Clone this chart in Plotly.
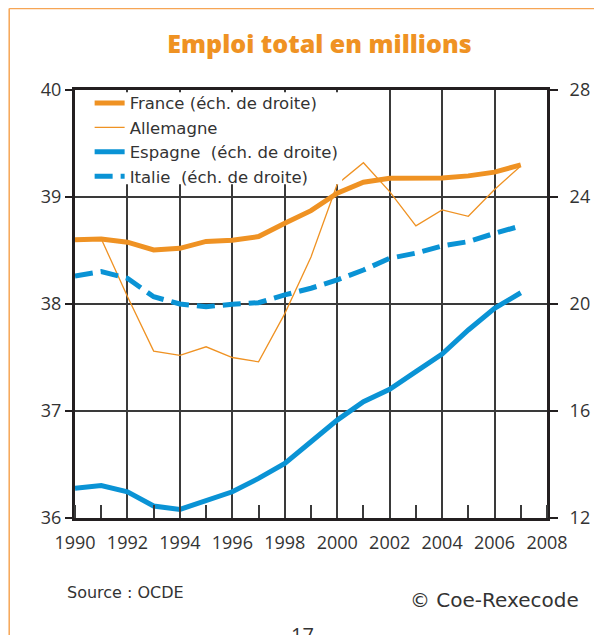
import plotly.graph_objects as go

years = list(range(1990, 2008))
france = [22.40, 22.43, 22.31, 22.02, 22.08, 22.34, 22.38, 22.52, 23.02, 23.49,
          24.14, 24.55, 24.70, 24.70, 24.71, 24.79, 24.93, 25.20]
allemagne = [None, 38.61, 38.07, 37.56, 37.52, 37.60, 37.50, 37.46, 37.91, 38.44,
             39.12, 39.32, 39.05, 38.73, 38.88, 38.82, 39.07, 39.29]
espagne = [13.11, 13.21, 12.98, 12.45, 12.32, 12.64, 12.98, 13.48, 14.04, 14.85,
           15.66, 16.35, 16.81, 17.47, 18.13, 19.03, 19.84, 20.42]
italie = [21.05, 21.21, 20.96, 20.27, 20.00, 19.90, 19.99, 20.05, 20.34, 20.59,
          20.90, 21.27, 21.71, 21.90, 22.17, 22.33, 22.64, 22.92]

x_ticks = list(range(1990, 2009, 2))
left_ticks = [36, 37, 38, 39, 40]
right_ticks = [12, 16, 20, 24, 28]

ORANGE = "#EF9223"
BLUE = "#0A93D5"
DARK = "#231F20"
GRID = "#3a3a3a"
FONT = "Open Sans, Noto Sans, sans-serif"
WIDE = "DejaVu Sans, Open Sans, sans-serif"

fig = go.Figure()
fig.add_trace(go.Scatter(x=years, y=allemagne, name="Allemagne", mode="lines",
                         line=dict(color=ORANGE, width=1.3), legendrank=2))
fig.add_trace(go.Scatter(x=years, y=france, name="France (éch. de droite)", mode="lines",
                         line=dict(color=ORANGE, width=5), yaxis="y2", legendrank=1))
fig.add_trace(go.Scatter(x=years, y=espagne, name="Espagne\u00a0 (éch. de droite)", mode="lines",
                         line=dict(color=BLUE, width=5), yaxis="y2", legendrank=3))
fig.add_trace(go.Scatter(x=years, y=italie, name="Italie\u00a0 (éch. de droite)", mode="lines",
                         line=dict(color=BLUE, width=5, dash="18px,8px"), yaxis="y2", legendrank=4))

fig.update_layout(
    width=594, height=627, autosize=False,
    margin=dict(l=67, r=50, t=82, b=117),
    paper_bgcolor="white", plot_bgcolor="white",
    font=dict(family=FONT, color="#333333"),
    title=dict(text="Emploi total en millions", xref="paper", x=0.518, xanchor="center",
               y=0.9426, yanchor="middle",
               font=dict(size=25, color=ORANGE, family=FONT, weight=800)),
    xaxis=dict(range=[1990, 2008], tickvals=x_ticks, ticks="",
               showgrid=True, gridcolor=GRID, gridwidth=1.5,
               showline=True, linecolor=DARK, linewidth=3, mirror=True,
               minor=dict(ticks="inside", ticklen=13, tickwidth=1.5, tickcolor=GRID,
                          dtick=1, tick0=1990, showgrid=False),
               tickfont=dict(size=18, color="#333333"), ticklabelstandoff=6,
               zeroline=False),
    yaxis=dict(range=[36, 40], tickvals=left_ticks, ticks="outside", ticklen=7,
               tickwidth=1.5, tickcolor=DARK,
               showgrid=True, gridcolor=GRID, gridwidth=1.5,
               showline=True, linecolor=DARK, linewidth=3,
               tickfont=dict(size=18, color="#333333"), zeroline=False),
    yaxis2=dict(range=[12, 28], tickvals=right_ticks, ticks="outside", ticklen=8,
                tickwidth=1.5, tickcolor=DARK, overlaying="y", side="right",
                showgrid=False, showline=True, linecolor=DARK, linewidth=3,
                tickfont=dict(size=18, color="#333333"), ticklabelstandoff=8,
                zeroline=False),
    legend=dict(x=0.031, y=1.01, xanchor="left", yanchor="top",
                bgcolor="rgba(0,0,0,0)", borderwidth=0,
                font=dict(size=16.5, color="#333333", family=WIDE),
                tracegroupgap=0),
    showlegend=True,
)

# white legend box (covers grid and lines as in the original)
fig.add_shape(type="rect", xref="paper", yref="paper", layer="above",
              x0=0.005, x1=0.566, y0=0.780, y1=0.995,
              fillcolor="white", line=dict(width=0))

fig.add_annotation(text="Source : OCDE", xref="paper", yref="paper",
                   x=-0.021, y=-0.175, xanchor="left", yanchor="middle",
                   showarrow=False, font=dict(size=16, color="#333333", family=WIDE))
fig.add_annotation(text="© Coe-Rexecode", xref="paper", yref="paper",
                   x=1.071, y=-0.192, xanchor="right", yanchor="middle",
                   showarrow=False, font=dict(size=20, color="#333333", family=WIDE))
fig.add_annotation(text="17", xref="paper", yref="paper",
                   x=0.482, y=-0.236, xanchor="center", yanchor="top",
                   showarrow=False, font=dict(size=20, color="#333333", family=FONT))

# orange page border (top and left)
fig.add_shape(type="line", xref="paper", yref="paper",
              x0=-0.1394, x1=1.2, y0=1.1904, y1=1.1904,
              line=dict(color="#F6A555", width=1.5))
fig.add_shape(type="line", xref="paper", yref="paper",
              x0=-0.1394, x1=-0.1394, y0=1.1904, y1=-0.3,
              line=dict(color="#F6A555", width=1.5))

fig.write_html("out.html")
